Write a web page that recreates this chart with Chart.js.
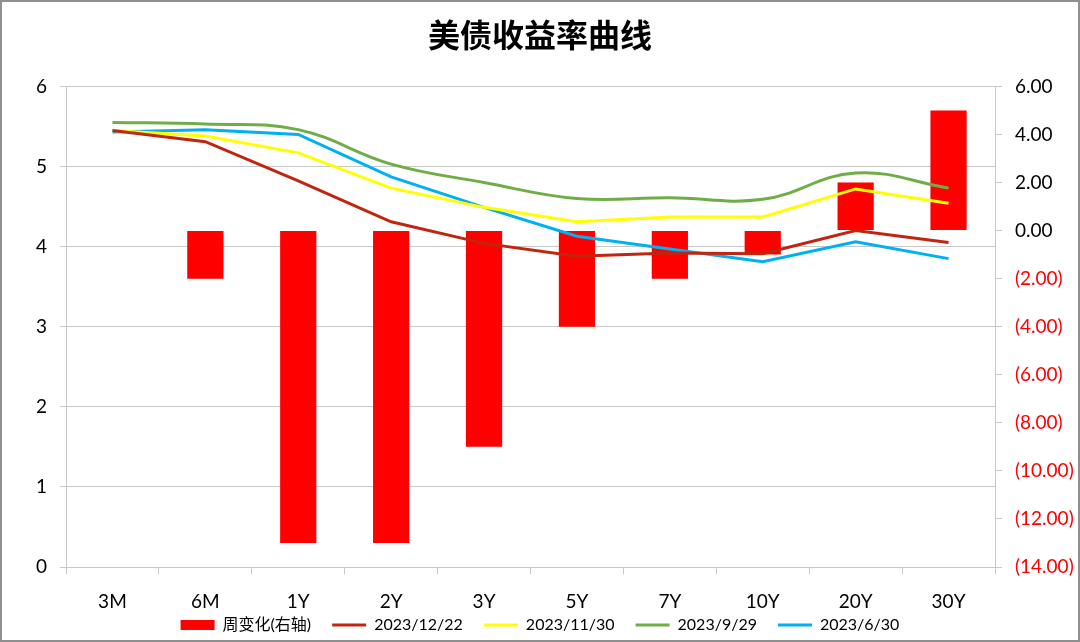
<!DOCTYPE html>
<html>
<head>
<meta charset="utf-8">
<script src="https://cdn.jsdelivr.net/npm/chart.js@4.4.1/dist/chart.umd.min.js"></script>
<style>
  html, body { margin: 0; padding: 0; background: #fff; }
  #wrap { width: 1080px; height: 642px; }
</style>
</head>
<body>
<div id="wrap"><canvas id="myChart" width="1080" height="642"></canvas></div>
<script>
// tenors and values
const tenors = ['3M', '6M', '1Y', '2Y', '3Y', '5Y', '7Y', '10Y', '20Y', '30Y'];
const weekChange = [0, -2, -13, -13, -9, -4, -2, -1, 2, 5];   // right axis, bp
const y20231222 = [5.45, 5.31, 4.82, 4.31, 4.04, 3.88, 3.92, 3.91, 4.20, 4.05];
const y20231130 = [5.45, 5.38, 5.17, 4.73, 4.49, 4.31, 4.37, 4.37, 4.72, 4.54];
const y20230929 = [5.55, 5.53, 5.46, 5.03, 4.80, 4.60, 4.61, 4.59, 4.92, 4.73];
const y20230630 = [5.43, 5.46, 5.40, 4.87, 4.49, 4.13, 3.97, 3.81, 4.06, 3.85];

const fontLatin = "Lato, 'Noto Sans CJK SC', sans-serif";
const gridGray = '#c8c8c8';

// white background, grey frame, and a tighter legend under the tenor labels
const frame = {
  id: 'frame',
  afterInit(chart) {
    const lg = chart.legend;
    const fit = lg.fit;
    lg.fit = function () { fit.call(this); this.height = 29; };
  },
  afterLayout(chart) {
    const lg = chart.legend;
    lg.top -= 17;
    lg.height += 17;
  },
  beforeDraw(chart) {
    const c = chart.ctx;
    c.save();
    c.fillStyle = '#fff';
    c.fillRect(0, 0, chart.width, chart.height);
    c.restore();
  },
  afterDraw(chart) {
    const c = chart.ctx;
    c.save();
    c.strokeStyle = '#8f8f8f';
    c.lineWidth = 2;
    c.strokeRect(1, 1, chart.width - 2, chart.height - 2);
    c.restore();
  }
};

const lineSet = (label, data, color, tension) => ({
  type: 'line',
  label: label,
  data: data,
  yAxisID: 'y',
  borderColor: color,
  backgroundColor: color,
  borderWidth: 3,
  pointRadius: 0,
  tension: tension || 0,
  order: 0
});

const ctx = document.getElementById('myChart').getContext('2d');
const myChart = new Chart(ctx, {
  type: 'bar',
  data: {
    labels: tenors,
    datasets: [
      {
        type: 'bar',
        label: '周变化(右轴)',
        data: weekChange,
        yAxisID: 'y1',
        backgroundColor: '#ff0000',
        borderWidth: 0,
        categoryPercentage: 1,
        barPercentage: 0.39,
        order: 1
      },
      lineSet('2023/12/22', y20231222, '#c0260f'),
      lineSet('2023/11/30', y20231130, '#ffff00'),
      lineSet('2023/9/29', y20230929, '#70ad47', 0.4),
      lineSet('2023/6/30', y20230630, '#00b0f0')
    ]
  },
  options: {
    responsive: false,
    animation: false,
    layout: { padding: { left: 0, right: 0, top: 0, bottom: 0 } },
    scales: {
      x: {
        grid: { display: true, drawOnChartArea: false, offset: true, color: gridGray, tickLength: 7 },
        border: { display: true, color: gridGray },
        ticks: { color: '#000', font: { family: fontLatin, size: 19 }, padding: 16 },
        afterFit(s) { s.height = 46; }
      },
      y: {
        position: 'left',
        min: 0,
        max: 6,
        ticks: { stepSize: 1, color: '#000', font: { family: fontLatin, size: 19 }, padding: 13 },
        grid: { color: gridGray, tickLength: 6 },
        border: { display: true, color: gridGray },
        afterFit(s) { s.width = 66; }
      },
      y1: {
        position: 'right',
        min: -14,
        max: 6,
        ticks: {
          stepSize: 2,
          font: { family: fontLatin, size: 19 },
          padding: 13,
          color: (c) => (c.tick.value < 0 ? '#ff0000' : '#000'),
          callback: (v) => (v < 0 ? '(' + Math.abs(v).toFixed(2) + ')' : v.toFixed(2))
        },
        grid: { drawOnChartArea: false, color: gridGray, tickLength: 7 },
        border: { display: true, color: gridGray },
        afterFit(s) { s.width = 85; }
      }
    },
    plugins: {
      title: {
        display: true,
        text: '美债收益率曲线',
        color: '#000',
        font: { family: "'Noto Sans CJK SC', sans-serif", size: 32, weight: 'bold' },
        padding: { top: 16, bottom: 32 }
      },
      legend: {
        position: 'bottom',
        labels: {
          color: '#000',
          font: { family: fontLatin, size: 16 },
          usePointStyle: true,
          pointStyleWidth: 34,
          boxHeight: 10,
          padding: 21,
          sort: (a, b) => a.datasetIndex - b.datasetIndex,
          generateLabels(chart) {
            const items = Chart.defaults.plugins.legend.labels.generateLabels(chart);
            items.forEach((it) => {
              const ds = chart.data.datasets[it.datasetIndex];
              it.pointStyle = ds.type === 'bar' ? 'rect' : 'line';
              it.lineWidth = ds.type === 'bar' ? 0 : 3;
              it.strokeStyle = ds.type === 'bar' ? '#ff0000' : ds.borderColor;
            });
            return items;
          }
        }
      },
      tooltip: { enabled: false }
    }
  },
  plugins: [frame]
});
</script>
</body>
</html>
